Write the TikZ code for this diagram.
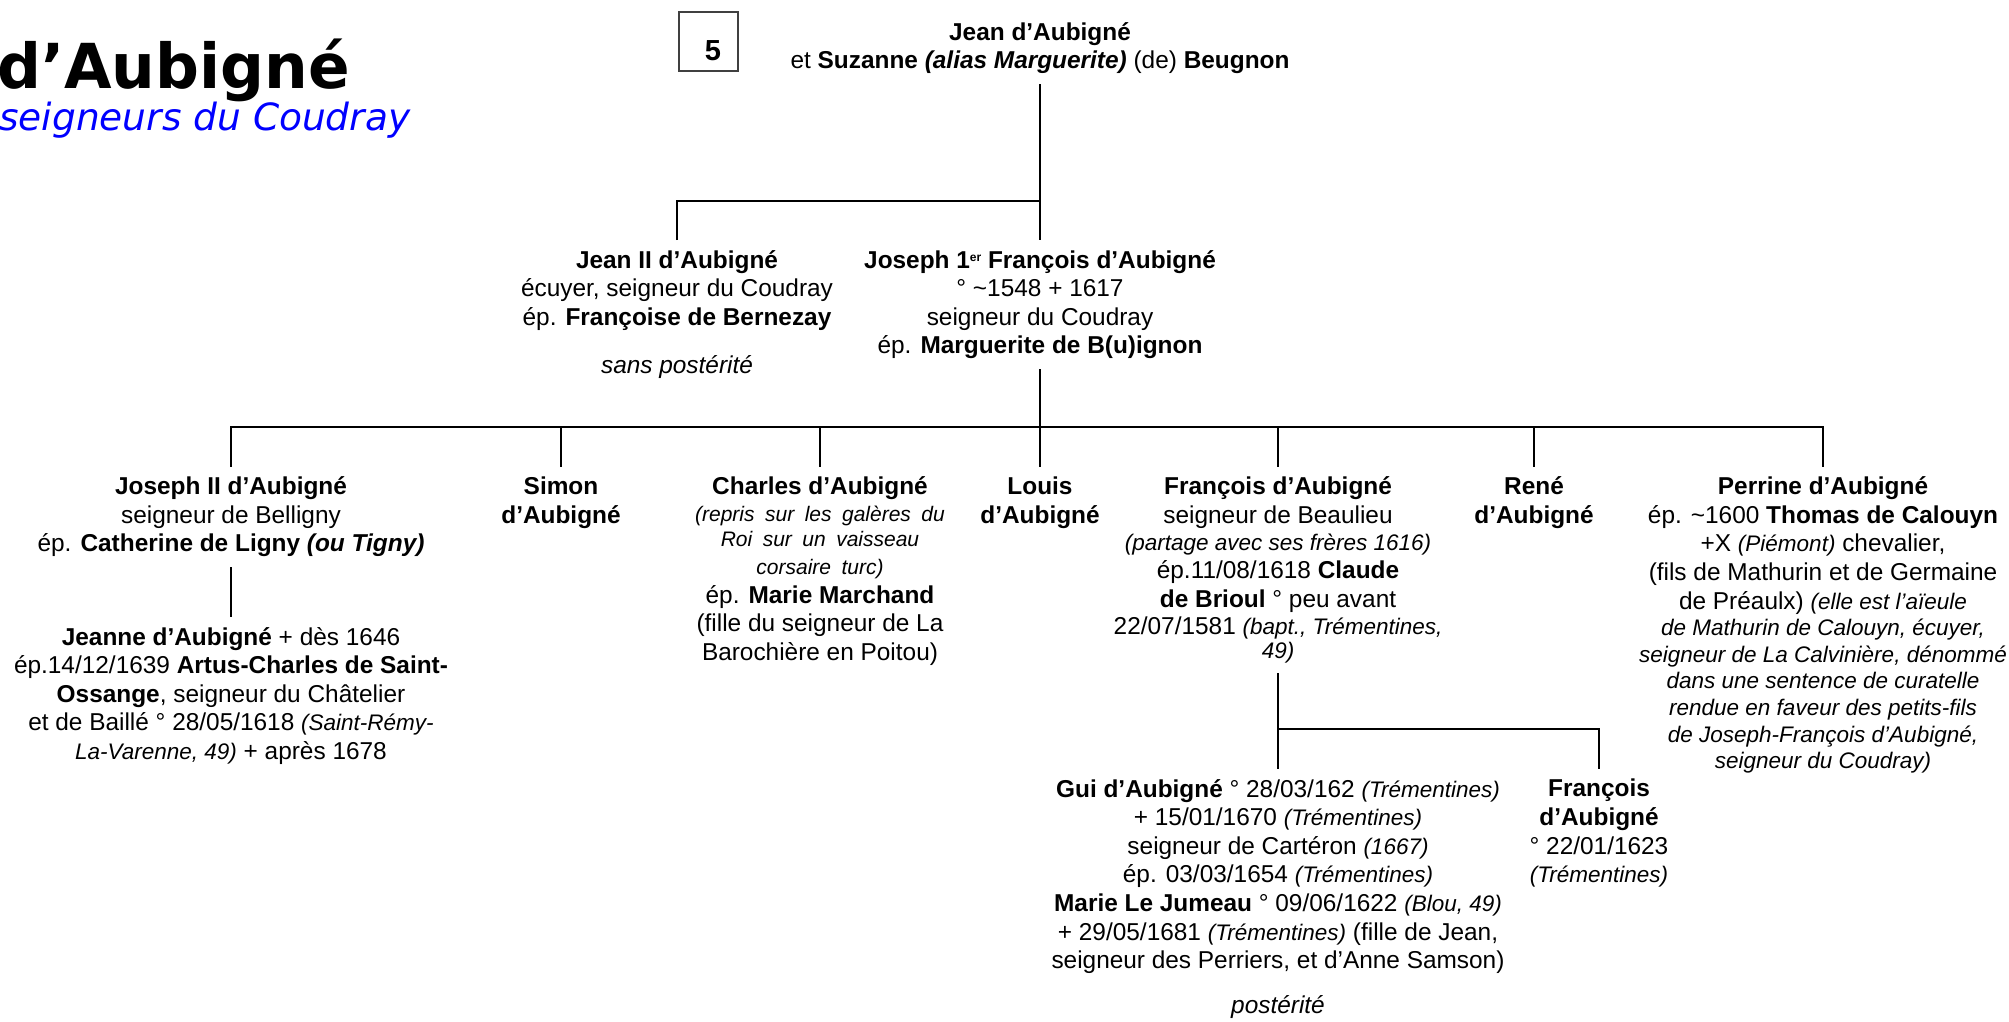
\documentclass[tikz,border=0pt]{standalone}
\usepackage{fontspec}
\setmainfont{Liberation Sans}
\newfontfamily\djv{DejaVu Sans}
\newcommand\smit[1]{{\fontsize{22.5pt}{28.6pt}\selectfont\itshape #1}}
\newcommand\chit[1]{{\fontsize{21pt}{28.6pt}\selectfont\itshape\spaceskip=0.5em #1}}
\newcommand\supr[1]{\raisebox{7pt}{\fontsize{12pt}{14pt}\selectfont #1}}
\tikzset{
  person/.style={anchor=north, align=center, inner xsep=0pt, inner ysep=10pt,
    font=\fontsize{24.4pt}{28.6pt}\selectfont},
  link/.style={line width=2.6pt},
}
\begin{document}
\begin{tikzpicture}[x=1pt,y=-1pt]
\fill[white] (0,0) rectangle (2009,1021);
\useasboundingbox (0,0) rectangle (2009,1021);

% title
\node[anchor=base west, inner sep=0pt, font=\djv\bfseries\fontsize{62pt}{70pt}\selectfont] (title) at (-3,88) {\scalebox{0.99}[1]{d’Aubigné}};
\node[anchor=base west, inner sep=0pt, text=blue, font=\djv\itshape\fontsize{37.5pt}{44pt}\selectfont] (subtitle) at (-1,130) {seigneurs du Coudray};

% number box
\node[draw=black!75, line width=1.6pt, minimum width=59pt, minimum height=59pt, inner sep=0pt,
  font=\bfseries\fontsize{29pt}{32pt}\selectfont] (num) at (708.5,41.5) {\raisebox{-19pt}[0pt][0pt]{\hspace{9pt}5}};

% coordinates of the bars
\coordinate (b1) at (0,201);
\coordinate (b2) at (0,427);
\coordinate (b3) at (0,729);

% generation 0
\node[person] (top) at (1040,12) {\textbf{Jean d’Aubigné}\\et \textbf{Suzanne \itshape(alias Marguerite)} (de) \textbf{Beugnon}};

% generation 1
\node[person] (jean2) at (677,240) {\textbf{Jean II d’Aubigné}\\écuyer, seigneur du Coudray\\ép. \textbf{Françoise de Bernezay}\\[19.4pt]\textit{sans postérité}};
\node[person] (jos1) at (1040,240) {\textbf{Joseph 1\supr{er} François d’Aubigné}\\° \textasciitilde1548 + 1617\\seigneur du Coudray\\ép. \textbf{Marguerite de B(u)ignon}};

% generation 2
\node[person] (jos2) at (231,466.6) {\textbf{Joseph II d’Aubigné}\\seigneur de Belligny\\ép. \textbf{Catherine de Ligny \itshape(ou Tigny)}};
\node[person] (simon) at (561,466.6) {\textbf{Simon}\\\textbf{d’Aubigné}};
\node[person] (charles) at (820,466.6) {\textbf{Charles d’Aubigné}\\[-2pt]\chit{(repris sur les galères du}\\[-3pt]\chit{Roi sur un vaisseau}\\[-1pt]\chit{corsaire turc)}\\ép. \textbf{Marie Marchand}\\(fille du seigneur de La\\Barochière en Poitou)};
\node[person] (louis) at (1040,466.6) {\textbf{Louis}\\\textbf{d’Aubigné}};
\node[person] (franc) at (1278,466.6) {\textbf{François d’Aubigné}\\seigneur de Beaulieu\\[-1pt]\smit{(partage avec ses frères 1616)}\\[-1pt]ép.11/08/1618 \textbf{Claude}\\\textbf{de Brioul} ° peu avant\\[-1pt]22/07/1581 \smit{(bapt., Trémentines,}\\[-5pt]\smit{49)}};
\node[person] (rene) at (1534,466.6) {\textbf{René}\\\textbf{d’Aubigné}};
\node[person] (perrine) at (1823,466.6) {\textbf{Perrine d’Aubigné}\\ép. \textasciitilde1600 \textbf{Thomas de Calouyn}\\+X \smit{(Piémont)} chevalier,\\(fils de Mathurin et de Germaine\\de Préaulx) \smit{(elle est l’aïeule}\\[-2pt]\smit{de Mathurin de Calouyn, écuyer,}\\[-2pt]\smit{seigneur de La Calvinière, dénommé}\\[-2pt]\smit{dans une sentence de curatelle}\\[-2pt]\smit{rendue en faveur des petits-fils}\\[-2pt]\smit{de Joseph-François d’Aubigné,}\\[-2pt]\smit{seigneur du Coudray)}};

% generation 3
\node[person] (jeanne) at (231,617) {\textbf{Jeanne d’Aubigné} + dès 1646\\ép.14/12/1639 \textbf{Artus-Charles de Saint-}\\\textbf{Ossange}, seigneur du Châtelier\\et de Baillé ° 28/05/1618 \smit{(Saint-Rémy-}\\\smit{La-Varenne, 49)} + après 1678};
\node[person] (gui) at (1278,769) {\textbf{Gui d’Aubigné} ° 28/03/162 \smit{(Trémentines)}\\+ 15/01/1670 \smit{(Trémentines)}\\seigneur de Cartéron \smit{(1667)}\\ép. 03/03/1654 \smit{(Trémentines)}\\\textbf{Marie Le Jumeau} ° 09/06/1622 \smit{(Blou, 49)}\\+ 29/05/1681 \smit{(Trémentines)} (fille de Jean,\\seigneur des Perriers, et d’Anne Samson)\\[16.4pt]\textit{postérité}};
\node[person] (fr2) at (1599,769) {\textbf{François}\\\textbf{d’Aubigné}\\° 22/01/1623\\\smit{(Trémentines)}};

% connectors
\draw[link] (top.south) -- (jos1.north);
\draw[link] (jean2.north) |- (jos1.north |- b1);
\draw[link] (jos1.south) -- (louis.north);
\draw[link] (jos2.north) |- (perrine.north |- b2) -- (perrine.north);
\foreach \c in {simon,charles,franc,rene}
  \draw[link] (\c.north) -- (\c.north |- b2);
\draw[link] (jos2.south) -- (jeanne.north);
\draw[link] (franc.south) -- (gui.north);
\draw[link] (gui.north |- b3) -| (fr2.north);
\end{tikzpicture}
\end{document}
